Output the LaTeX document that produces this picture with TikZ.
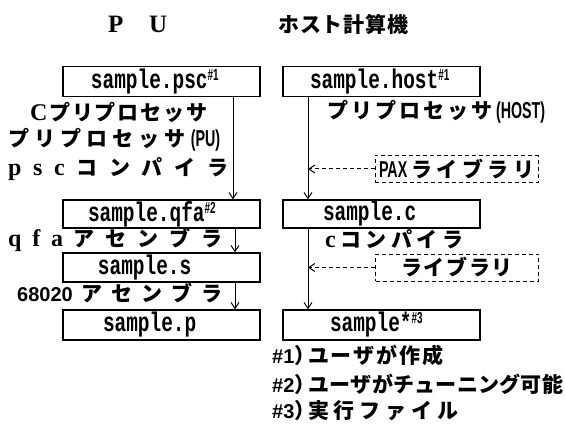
\documentclass[tikz,border=0pt]{standalone}
\usepackage{fontspec}
\usetikzlibrary{arrows.meta}
\setmainfont{Liberation Serif}
\newfontfamily\jp{Noto Sans CJK JP}
\newfontfamily\mono[FakeStretch=0.72]{Liberation Mono}
\newfontfamily\cond[FakeStretch=0.62]{Liberation Sans}
\newfontfamily\lsans{Liberation Sans}
\makeatletter
\newcommand\spr[2]{\hbox to #1{\let\spr@sep\relax\@tfor\spr@x:=#2\do{\spr@sep{\spr@x}\let\spr@sep\hfil}}}
\makeatother
\newcommand\jpf{\jp\bfseries\fontsize{21}{21}\selectfont}
\newcommand\zl{\rmfamily\bfseries\fontsize{24}{24}\selectfont}
\newcommand\condf{\cond\bfseries\fontsize{23}{23}\selectfont}
\newcommand\lsf{\lsans\bfseries\fontsize{20}{20}\selectfont}
\newcommand\bx[2]{\makebox[197pt][l]{\hspace{#1pt}\mono\bfseries\fontsize{27}{27}\selectfont #2}}
\newcommand\sups[1]{\smash{\raisebox{8pt}{\cond\bfseries\fontsize{16}{16}\selectfont\##1}}}
\begin{document}
\begin{tikzpicture}[x=1pt,y=-1pt,
  box/.style={draw, line width=1.3pt, inner sep=0pt, minimum width=197pt, minimum height=30pt},
  dbox/.style={draw, dash pattern=on 4pt off 3pt, line width=1pt, inner sep=0pt, minimum width=163pt, minimum height=27pt, font=\jpf},
  lbl/.style={inner sep=0pt, anchor=west, font=\jpf},
  arr/.style={-{Straight Barb[length=6pt,width=8pt]}, line width=1pt},
  darr/.style={arr, dash pattern=on 4pt off 3pt}]
\fill[white] (0,0) rectangle (565,441);
\useasboundingbox (0,0) rectangle (565,441);
% titles
\node[lbl] (tpu) at (108,24) {\rmfamily\fontsize{25}{25}\selectfont\spr{59pt}{PU}};
\node[lbl] (thost) at (278,24) {\spr{130pt}{ホスト計算機}};
% boxes
\node[box] (psc) at (161.5,81.5) {\bx{28}{sample.psc\sups{1}}};
\node[box, minimum height=28pt] (qfa) at (161.5,214) {\bx{25}{sample.qfa\sups{2}}};
\node[box, minimum height=29pt] (s) at (161.5,267.5) {\bx{35}{sample.s}};
\node[box] (p) at (161.5,325) {\bx{40}{sample.p}};
\node[box] (host) at (381.5,81.5) {\bx{27}{sample.host\sups{1}}};
\node[box, minimum height=28pt] (c) at (381.5,214) {\bx{40}{sample.c}};
\node[box] (star) at (381.5,325) {\bx{47}{sample*\sups{3}}};
% dashed boxes
\node[dbox] (pax) at (456.5,169) {\spr{155pt}{{\condf PAX}ライブラリ}};
\node[dbox] (lib) at (457,267.5) {\spr{112pt}{ライブラリ}};
% arrows
\coordinate (la) at (233,0);
\coordinate (lb) at (235,0);
\coordinate (ra) at (308,0);
\draw[arr] (psc.south -| la) -- (qfa.north -| la);
\draw[arr] (qfa.south -| lb) -- (s.north -| lb);
\draw[arr] (s.south -| lb) -- (p.north -| lb);
\draw[arr] (host.south -| ra) -- (c.north -| ra);
\draw[arr] (c.south -| ra) -- (star.north -| ra);
\draw[darr] (pax.west) -- (pax.west -| ra);
\draw[darr] (lib.west) -- (lib.west -| ra);
% labels
\node[lbl] (l1) at (30,112) {\spr{177pt}{{\zl C}プリプロセッサ}};
\node[lbl] (l2) at (8,140) {\spr{212pt}{プリプロセッサ{\condf (PU)}}};
\node[lbl] (l3) at (8,169) {\spr{220pt}{{\zl p}{\zl s}{\zl c}コンパイラ}};
\node[lbl] (l4) at (8,240) {\spr{214pt}{{\zl q}{\zl f}{\zl a}アセンブラ}};
\node[lbl] (l5) at (17,293) {\spr{205pt}{{\lsf 68020}アセンブラ}};
\node[lbl] (r1) at (327,112) {\spr{218pt}{プリプロセッサ{\condf (HOST)}}};
\node[lbl] (r2) at (325,239) {\spr{138pt}{{\zl c}コンパイラ}};
% footnotes
\node[lbl] (f1) at (272,355) {\makebox[36pt][l]{{\lsf\#1}）}\spr{135pt}{ユーザが作成}};
\node[lbl] (f2) at (272,384) {\makebox[36pt][l]{{\lsf\#2}）}\spr{255pt}{ユーザがチューニング可能}};
\node[lbl] (f3) at (272,411) {\makebox[36pt][l]{{\lsf\#3}）}\spr{150pt}{実行ファイル}};
\end{tikzpicture}
\end{document}
